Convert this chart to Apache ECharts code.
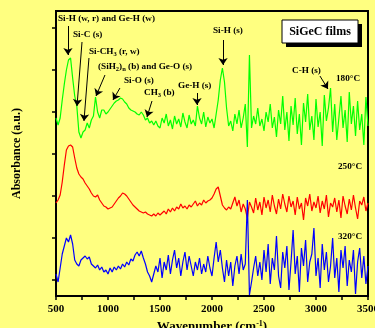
<!DOCTYPE html>
<html>
<head>
<meta charset="utf-8">
<title>SiGeC films</title>
<script src="https://cdn.jsdelivr.net/npm/echarts@6.0.0/dist/echarts.min.js"></script>
<style>
  html, body { margin: 0; padding: 0; background: #ffff80; }
  #main { width: 375px; height: 328px; }
</style>
</head>
<body>
<div id="main"></div>
<script>
// wavenumber grid (cm-1)
var wavenumber = [
  500,520,540,560,580,600,620,640,660,680,
  700,720,740,760,780,800,820,840,860,880,
  900,920,940,960,980,1000,1020,1040,1060,1080,
  1100,1120,1140,1160,1180,1200,1220,1240,1260,1280,
  1300,1320,1340,1360,1380,1400,1420,1440,1460,1480,
  1500,1520,1540,1560,1580,1600,1620,1640,1660,1680,
  1700,1720,1740,1760,1780,1800,1820,1840,1860,1880,
  1900,1920,1940,1960,1980,2000,2020,2040,2060,2080,
  2100,2120,2140,2160,2180,2200,2220,2240,2260,2280,
  2300,2320,2340,2360,2380,2400,2420,2440,2460,2480,
  2500,2520,2540,2560,2580,2600,2620,2640,2660,2680,
  2700,2720,2740,2760,2780,2800,2820,2840,2860,2880,
  2900,2920,2940,2960,2980,3000,3020,3040,3060,3080,
  3100,3120,3140,3160,3180,3200,3220,3240,3260,3280,
  3300,3320,3340,3360,3380,3400,3420,3440,3460,3480,
  3500
];

// absorbance (a.u., curves offset)
var film180 = [
  178,171,178,196,212,226,236,238,218,200,
  190,164,158,164,166,173,168,176,180,199,
  184,178,186,186,182,184,187,190,193,195,
  196,198,197,194,192,188,186,185,184,182,
  181,184,181,176,178,173,175,171,175,170,
  168,178,173,182,170,176,167,180,172,177,
  169,183,174,168,181,172,176,170,190,178,
  172,184,169,179,173,177,168,182,196,216,
  228,214,188,170,175,165,182,172,186,168,
  178,192,149,241,168,180,172,188,170,177,
  165,184,174,192,168,179,159,186,172,200,
  166,184,155,190,171,198,162,182,151,193,
  174,202,166,180,156,197,169,184,150,201,
  175,188,208,164,192,156,178,200,168,186,
  154,204,172,190,160,195,166,182,151,199,
  170
];
var film250 = [
  93,96,101,114,131,146,150,151,149,138,
  128,122,119,117,113,110,107,103,100,99,
  101,96,93,90,89,87,88,89,92,95,
  98,100,103,102,100,97,94,91,89,87,
  85,84,83,84,82,81,80,82,80,83,
  81,83,85,82,87,84,88,85,89,87,
  92,88,90,87,91,89,92,95,90,93,
  91,96,93,95,96,98,102,107,109,100,
  91,88,86,89,87,93,99,90,96,84,
  92,87,78,94,89,83,98,86,94,81,
  99,88,96,84,101,90,82,97,87,102,
  92,84,100,89,95,81,99,87,93,76,
  98,90,102,85,94,88,100,83,95,87,
  101,79,93,89,98,84,96,78,100,90,
  82,97,86,101,88,77,95,91,99,85,
  93
];
var film320 = [
  22,14,28,42,50,58,54,61,52,36,
  32,30,36,38,40,37,39,32,30,28,
  31,26,29,24,26,22,28,24,29,26,
  30,27,32,29,34,31,37,35,41,44,
  40,45,38,32,24,20,14,22,30,24,
  38,18,34,26,41,22,36,46,28,38,
  20,34,44,26,40,30,20,34,26,38,
  22,32,24,40,28,20,38,54,34,46,
  28,14,36,20,34,10,30,40,22,42,
  26,32,96,1,14,28,40,20,34,16,
  46,24,52,12,38,26,60,20,8,44,
  28,50,6,34,66,22,40,4,48,30,
  56,14,34,42,68,20,38,8,52,26,
  44,14,30,58,18,38,4,46,28,50,
  10,36,24,46,2,34,48,18,40,12,
  30
];

var yTicks = [16, 58, 100, 142, 184, 226, 268];

// band assignment arrows: start, end (wavenumber, absorbance)
var bandArrows = [
  [[615, 270], [615, 241]],
  [[750, 254], [702, 190]],
  [[817, 238], [769, 175]],
  [[971, 221], [885, 200]],
  [[1115, 208], [1048, 196]],
  [[1423, 195], [1375, 179]],
  [[1856, 203], [1856, 191]],
  [[2106, 256], [2106, 231]],
  [[3038, 220], [3115, 207]]
];

var FONT = '"Liberation Serif", "Times New Roman", serif';

var pairs = function(ys){
  return wavenumber.map(function(x, i){ return [x, ys[i]]; });
};

var subStyle = { fontSize: 6.5, fontWeight: 'bold', fontFamily: FONT, fill: '#000', padding: [5, 0, 0, 0] };
var label = function(x, y, text, size){
  return {
    type: 'text', x: x, y: y, z: 100,
    style: {
      text: text, fill: '#000', align: 'left', verticalAlign: 'middle',
      font: 'bold ' + (size || 9.2) + 'px ' + FONT,
      rich: { sub: subStyle }
    }
  };
};

var chart = echarts.init(document.getElementById('main'), null, { renderer: 'canvas' });

var lineSeries = function(name, data, color){
  return {
    name: name, type: 'line', data: pairs(data),
    showSymbol: false, symbol: 'none',
    lineStyle: { color: color, width: 1.2 },
    animation: false
  };
};

var s180 = lineSeries('180°C', film180, '#00ff00');
s180.markLine = {
  silent: true, animation: false,
  symbol: ['none', 'arrow'], symbolSize: 7,
  label: { show: false },
  lineStyle: { color: '#000', width: 1, type: 'solid' },
  data: bandArrows.map(function(a){
    return [{ coord: a[0] }, { coord: a[1] }];
  })
};

chart.setOption({
  backgroundColor: '#ffff80',
  animation: false,
  grid: {
    left: 56, right: 7, top: 11, bottom: 32,
    outerBoundsMode: 'none',
    show: true, borderColor: '#000', borderWidth: 2
  },
  xAxis: {
    type: 'value', min: 500, max: 3500, interval: 250,
    name: 'Wavenumber (cm{sup|-1})',
    nameLocation: 'middle', nameGap: 23,
    nameTextStyle: {
      fontFamily: FONT, fontWeight: 'bold', fontSize: 13, color: '#000',
      rich: { sup: { fontFamily: FONT, fontWeight: 'bold', fontSize: 8, color: '#000', padding: [0, 0, 6, 0] } }
    },
    axisLine: { lineStyle: { color: '#000', width: 2 } },
    axisTick: { length: 4, lineStyle: { color: '#000', width: 1.5 } },
    axisLabel: {
      margin: 8, color: '#000', fontFamily: FONT, fontWeight: 'bold', fontSize: 11,
      formatter: function(v){ return v % 500 === 0 ? String(v) : ''; }
    },
    splitLine: { show: false }
  },
  yAxis: {
    type: 'value', min: 0, max: 285,
    name: 'Absorbance (a.u.)',
    nameLocation: 'middle', nameGap: 33,
    nameTextStyle: { fontFamily: FONT, fontWeight: 'bold', fontSize: 12, color: '#000' },
    axisLine: { show: true, lineStyle: { color: '#000', width: 2 } },
    axisTick: { show: true, length: 4, customValues: yTicks, lineStyle: { color: '#000', width: 1.5 } },
    axisLabel: { show: false },
    splitLine: { show: false }
  },
  series: [
    s180,
    lineSeries('250°C', film250, '#ff0000'),
    lineSeries('320°C', film320, '#0000ff')
  ],
  graphic: [
    label(58, 19, 'Si-H (w, r) and Ge-H (w)'),
    label(73, 35, 'Si-C (s)'),
    label(89, 52, 'Si-CH{sub|3} (r, w)'),
    label(98, 67, '(SiH{sub|2}){sub|n} (b) and Ge-O (s)'),
    label(124, 81, 'Si-O (s)'),
    label(144, 93, 'CH{sub|3} (b)'),
    label(178, 86, 'Ge-H (s)'),
    label(213, 31, 'Si-H (s)'),
    label(292, 71, 'C-H (s)'),
    label(336, 79, '180°C'),
    label(338, 167, '250°C'),
    label(338, 237, '320°C'),
    { type: 'rect', z: 100, shape: { x: 286, y: 24, width: 76, height: 23 }, style: { fill: '#000' } },
    { type: 'rect', z: 101, shape: { x: 282, y: 20, width: 76, height: 23 }, style: { fill: '#fff', stroke: '#000', lineWidth: 1 } },
    { type: 'text', z: 102, x: 320, y: 32, style: { text: 'SiGeC films', fill: '#000', align: 'center', verticalAlign: 'middle', font: 'bold 12px ' + FONT } }
  ]
});
</script>
</body>
</html>
